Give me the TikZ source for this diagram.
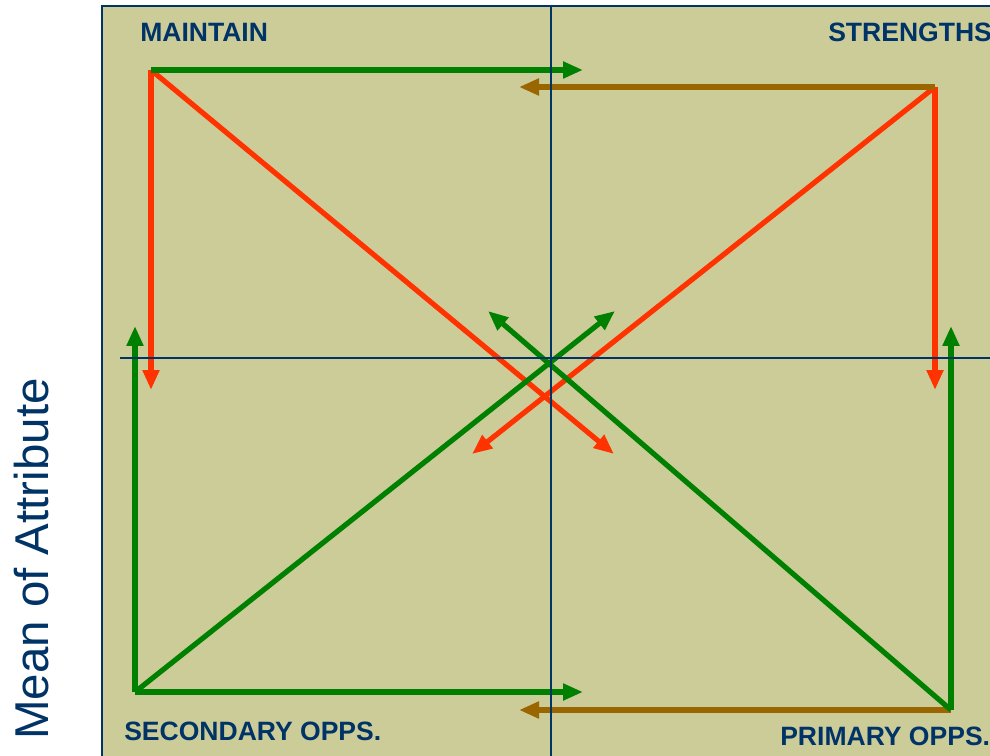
\documentclass[tikz,border=0pt]{standalone}
\usepackage{fontspec}
\setmainfont{Liberation Sans}
\usetikzlibrary{arrows.meta}
\definecolor{panel}{HTML}{CCCC99}
\definecolor{navy}{HTML}{003366}
\definecolor{grn}{HTML}{008000}
\definecolor{rd}{HTML}{FF3300}
\definecolor{brn}{HTML}{996600}
\begin{document}
\begin{tikzpicture}[x=0.75pt,y=-0.75pt,
  arr/.style={line width=3.9pt, line cap=butt, -{Triangle[length=15pt,width=12pt]}},
  garr/.style={arr, grn},
  rarr/.style={arr, rd},
  barr/.style={arr, brn},
  axis/.style={navy, line width=1.1pt},
  quad/.style={font=\bfseries\fontsize{19.9pt}{22pt}\selectfont, text=navy, inner sep=0pt, anchor=base west},
  ylab/.style={font=\fontsize{35.6pt}{40pt}\selectfont, text=navy, inner sep=0pt, anchor=base, rotate=90}]
\useasboundingbox (0,0) rectangle (990,756);
\fill[white] (0,0) rectangle (990,756);
\fill[panel] (102,6) rectangle (990,756);
\draw[navy, line width=1.5pt] (102,756) -- (102,6) -- (990,6);
% corners
\coordinate (TL) at (151,70);
\coordinate (TR) at (935,87);
\coordinate (BL) at (135,692);
\coordinate (BR) at (951,710);
% arrow ends
\coordinate (TLr) at (583,70);
\coordinate (TRl) at (519,87);
\coordinate (BLr) at (583,692);
\coordinate (BRl) at (519,710);
\coordinate (TLd) at (151,390);
\coordinate (TRd) at (935,390);
\coordinate (BLu) at (135,326);
\coordinate (BRu) at (951,326);
\coordinate (TLx) at (614,454);
\coordinate (TRx) at (472,454);
\coordinate (BLx) at (615,311);
\coordinate (BRx) at (488,311);
% red
\draw[rarr] (TL) -- (TLd);
\draw[rarr] (TL) -- (TLx);
\draw[rarr] (TR) -- (TRd);
\draw[rarr] (TR) -- (TRx);
% brown
\draw[barr] (TR) -- (TRl);
\draw[barr] (BR) -- (BRl);
% green
\draw[garr] (TL) -- (TLr);
\draw[garr] (BL) -- (BLu);
\draw[garr] (BL) -- (BLr);
\draw[garr] (BL) -- (BLx);
\draw[garr] (BR) -- (BRu);
\draw[garr] (BR) -- (BRx);
% axes
\coordinate (vtop) at (551,6);
\coordinate (vbot) at (551,756);
\coordinate (hl) at (120,358);
\coordinate (hr) at (990,358);
\draw[axis] (vtop) -- (vbot);
\draw[axis] (hl) -- (hr);
% labels
\node[quad] (maintain) at (140,41.5) {MAINTAIN};
\node[quad] (strengths) at (828,42) {STRENGTHS};
\node[quad] (secondary) at (124,740) {SECONDARY OPPS.};
\node[quad] (primary) at (780,745) {PRIMARY OPPS.};
\node[ylab] (ylabel) at (48,559) {Mean of Attribute};
\end{tikzpicture}
\end{document}
